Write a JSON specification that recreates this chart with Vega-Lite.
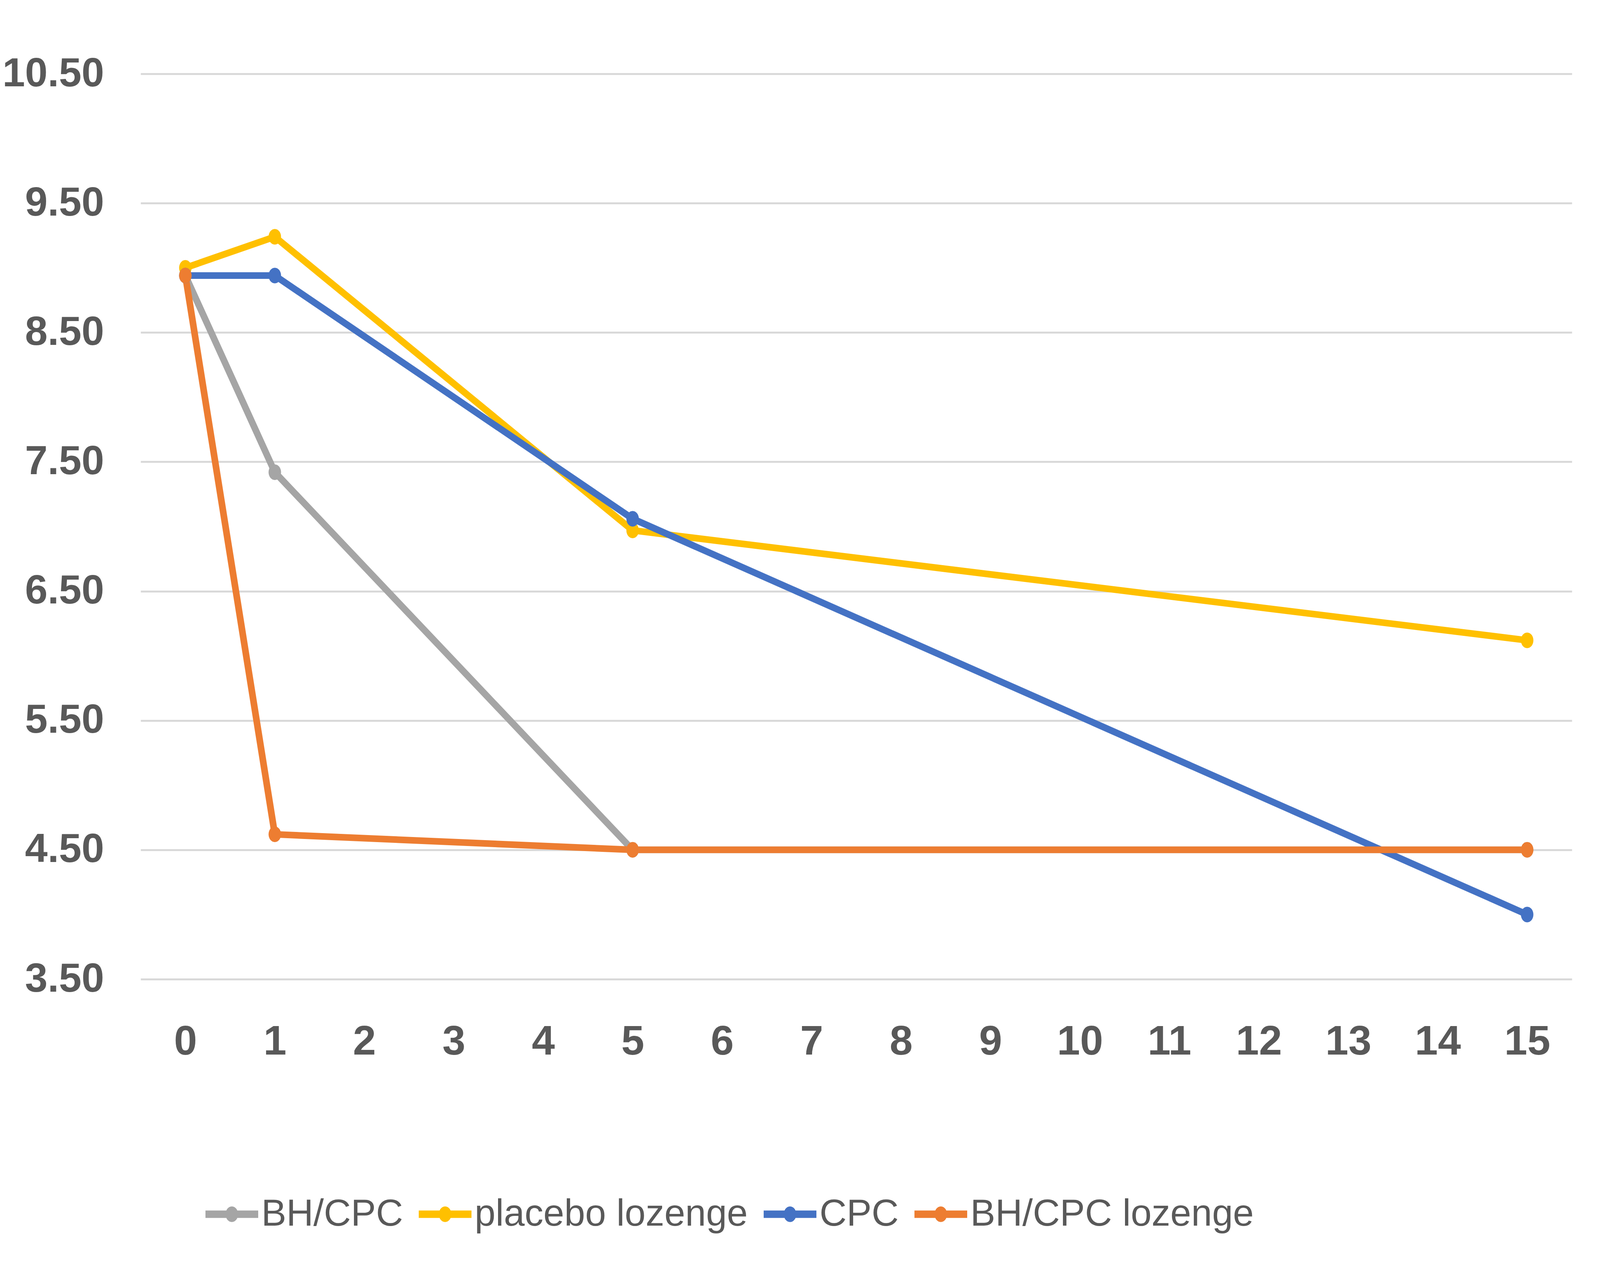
{
  "$schema": "https://vega.github.io/schema/vega-lite/v6.json",
  "width": 3664,
  "height": 2318,
  "autosize": {"type": "none"},
  "padding": {"left": 360, "top": 189, "right": 72, "bottom": 742},
  "background": "white",
  "config": {"view": {"stroke": null}, "font": "Liberation Sans"},
  "data": {
    "values": [
      {"day": 0, "value": 8.94, "series": "BH/CPC"},
      {"day": 1, "value": 7.42, "series": "BH/CPC"},
      {"day": 5, "value": 4.5, "series": "BH/CPC"},
      {"day": 15, "value": 4.5, "series": "BH/CPC"},
      {"day": 0, "value": 9.0, "series": "placebo lozenge"},
      {"day": 1, "value": 9.24, "series": "placebo lozenge"},
      {"day": 5, "value": 6.97, "series": "placebo lozenge"},
      {"day": 15, "value": 6.12, "series": "placebo lozenge"},
      {"day": 0, "value": 8.94, "series": "CPC"},
      {"day": 1, "value": 8.94, "series": "CPC"},
      {"day": 5, "value": 7.06, "series": "CPC"},
      {"day": 15, "value": 4.0, "series": "CPC"},
      {"day": 0, "value": 8.94, "series": "BH/CPC lozenge"},
      {"day": 1, "value": 4.62, "series": "BH/CPC lozenge"},
      {"day": 5, "value": 4.5, "series": "BH/CPC lozenge"},
      {"day": 15, "value": 4.5, "series": "BH/CPC lozenge"}
    ]
  },
  "encoding": {
    "x": {
      "field": "day",
      "type": "quantitative",
      "scale": {"domain": [-0.5, 15.5], "nice": false, "zero": false},
      "axis": {
        "values": [0, 1, 2, 3, 4, 5, 6, 7, 8, 9, 10, 11, 12, 13, 14, 15],
        "grid": false,
        "domain": false,
        "ticks": false,
        "title": null,
        "labelFont": "Liberation Sans",
        "labelFontWeight": "bold",
        "labelFontSize": 106,
        "labelColor": "#595959",
        "labelPadding": 108,
        "labelFlush": false
      }
    },
    "y": {
      "field": "value",
      "type": "quantitative",
      "scale": {"domain": [3.5, 10.5], "nice": false, "zero": false},
      "axis": {
        "values": [3.5, 4.5, 5.5, 6.5, 7.5, 8.5, 9.5, 10.5],
        "format": ".2f",
        "grid": true,
        "gridColor": "#D9D9D9",
        "gridWidth": 5,
        "domain": false,
        "ticks": false,
        "title": null,
        "labelFont": "Liberation Sans",
        "labelFontWeight": "bold",
        "labelFontSize": 104,
        "labelColor": "#595959",
        "labelPadding": 94,
        "labelLimit": 1000,
        "labelFlush": false
      }
    },
    "color": {
      "field": "series",
      "type": "nominal",
      "scale": {
        "domain": ["BH/CPC", "placebo lozenge", "CPC", "BH/CPC lozenge"],
        "range": ["#A5A5A5", "#FFC000", "#4472C4", "#ED7D31"]
      },
      "legend": {
        "orient": "none",
        "legendX": 166,
        "legendY": 2852,
        "direction": "horizontal",
        "title": null,
        "symbolType": "M-1,-0.141H1V0.141H-1Z M-0.237,0A0.237,0.296,0,1,1,0.237,0A0.237,0.296,0,1,1,-0.237,0Z",
        "symbolSize": 18225,
        "symbolStrokeWidth": 0,
        "symbolOpacity": 1,
        "labelFont": "Liberation Sans",
        "labelFontSize": 96,
        "labelColor": "#595959",
        "labelOffset": 8,
        "labelLimit": 3000,
        "columnPadding": 40
      }
    }
  },
  "layer": [
    {"mark": {"type": "line", "strokeWidth": 17, "strokeJoin": "round", "strokeCap": "round"}},
    {
      "mark": {
        "type": "point",
        "filled": true,
        "opacity": 1,
        "size": 1600,
        "shape": "M-0.8,0A0.8,1,0,1,1,0.8,0A0.8,1,0,1,1,-0.8,0Z"
      }
    }
  ]
}
